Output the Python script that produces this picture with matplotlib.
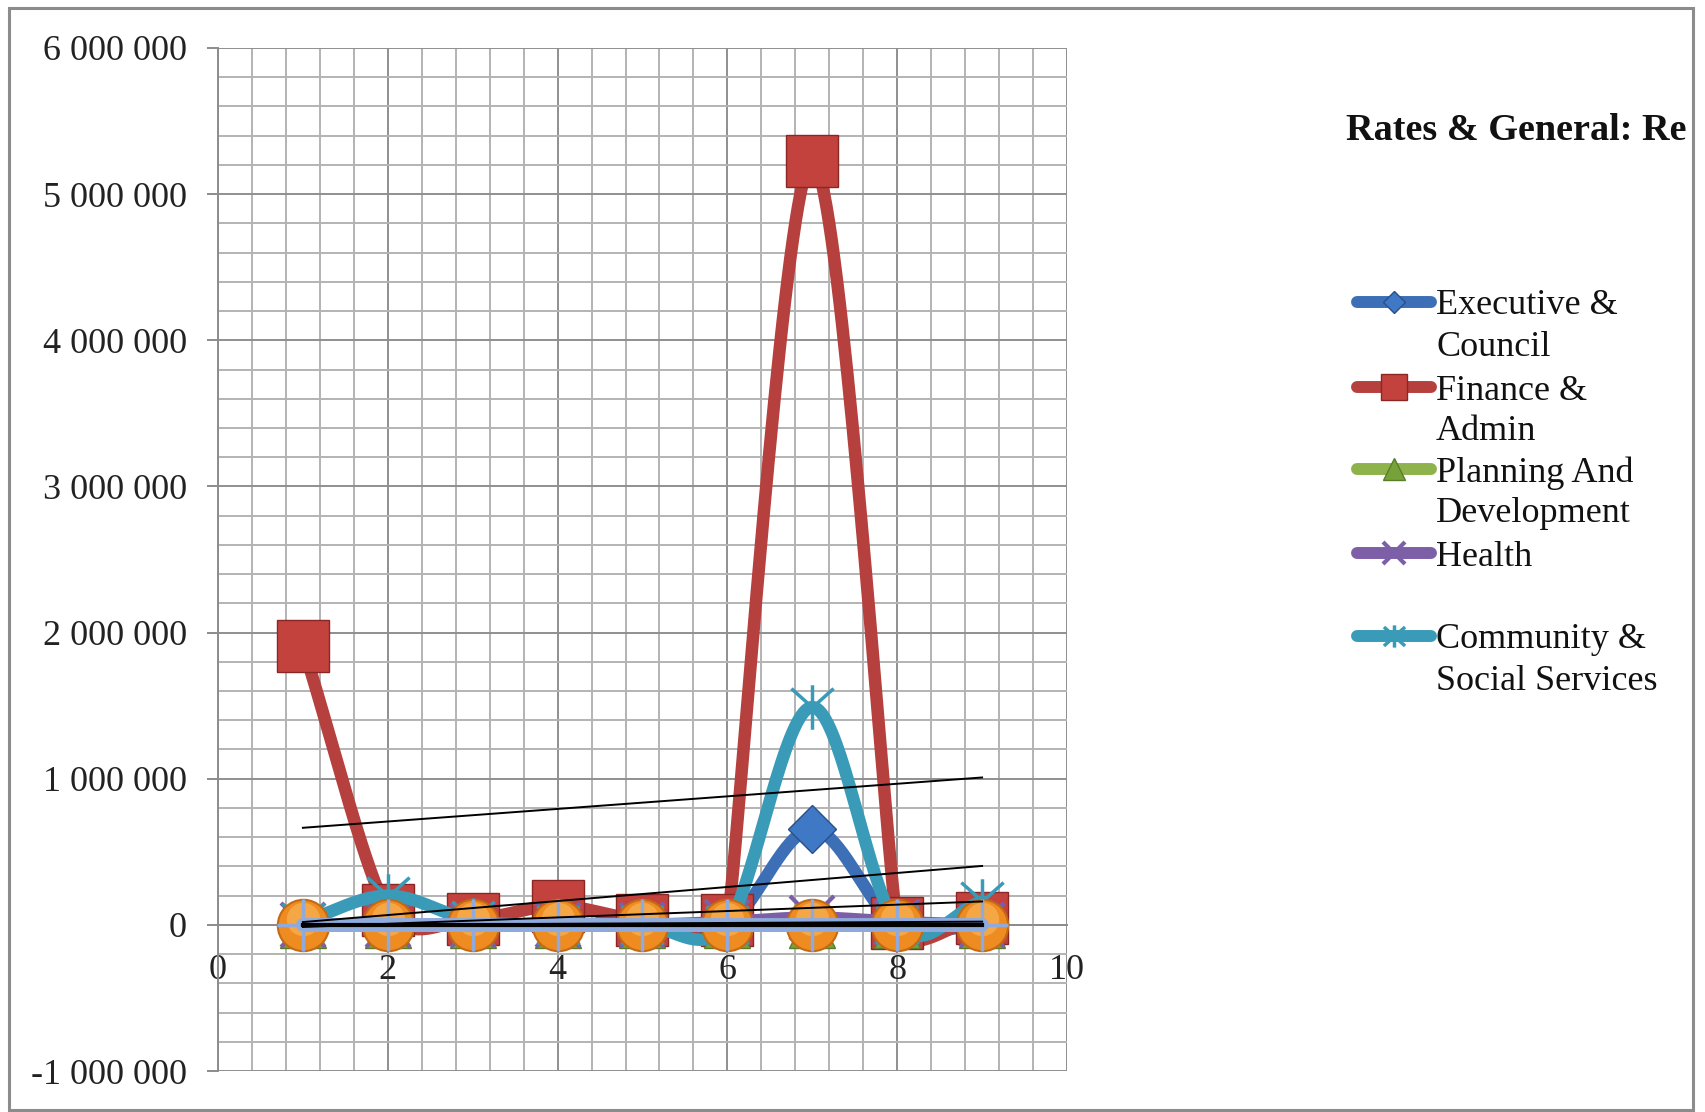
import numpy as np
import matplotlib
matplotlib.use("Agg")
import matplotlib.pyplot as plt
from matplotlib.lines import Line2D
from matplotlib.patches import Rectangle
from matplotlib.path import Path
from matplotlib.ticker import MultipleLocator, FuncFormatter
from matplotlib.transforms import Bbox, offset_copy

plt.rcParams['font.family'] = ['Liberation Serif', 'DejaVu Serif']

# monthly revenue per department
months = np.arange(1, 10)
executive_council = [0, 0, 0, 0, 0, 0, 655000, 0, 0]
finance_admin = [1907000, 100000, 40000, 130000, 30000, 30000, 5230000, 10000, 50000]
planning_development = [0, 0, 0, 0, 0, 0, 0, 0, 0]
health = [0, 0, 0, 0, 0, 20000, 50000, 20000, 0]
community_social = [20000, 200000, 30000, 0, 0, 0, 1490000, 0, 160000]
extra_orange = [0, 0, 0, 0, 0, 0, 0, 0, 0]
extra_light_blue = [0, 0, 0, 0, 0, 0, 0, 0, 0]

legend_labels = [["Executive &", "Council"],
                 ["Finance &", "Admin"],
                 ["Planning And", "Development"],
                 ["Health", ""],
                 ["Community &", "Social Services"]]
title = "Rates & General: Re"
y_ticks = np.arange(-1000000, 6000001, 1000000)
x_ticks = np.arange(0, 11, 2)

W, H = 1705, 1112
fig = plt.figure(figsize=(W / 100, H / 100), dpi=100)
ax = fig.add_axes([218 / W, 41 / H, 849 / W, 1023 / H])
ax.set_xlim(0, 10)
ax.set_ylim(-1000000, 6000000)


def excel_smooth(x, y, trans, steps=40):
    # bezier smoothing done in screen space, tangents capped by segment length
    p = trans.transform(np.column_stack([x, y]).astype(float))
    n = len(p)
    tan = np.zeros_like(p)
    for i in range(1, n - 1):
        d01 = np.hypot(*(p[i] - p[i - 1]))
        d12 = np.hypot(*(p[i + 1] - p[i]))
        d02 = np.hypot(*(p[i + 1] - p[i - 1]))
        f = min(1 / 6, d01 / (2 * d02), d12 / (2 * d02)) if d02 > 0 else 0
        tan[i] = (p[i + 1] - p[i - 1]) * f
    t = np.linspace(0, 1, steps)[:, None]
    out = []
    for i in range(n - 1):
        a, d = p[i], p[i + 1]
        b = a + tan[i] if i > 0 else a + (d - a) / 3
        c = d - tan[i + 1] if i + 1 < n - 1 else d - (d - a) / 3
        seg = (1 - t) ** 3 * a + 3 * (1 - t) ** 2 * t * b + 3 * (1 - t) * t ** 2 * c + t ** 3 * d
        out.append(seg)
    out = trans.inverted().transform(np.vstack(out))
    return out[:, 0], out[:, 1]


star = Path([(0, -1), (0, 1), (-0.95, -0.85), (0.95, 0.85), (-0.95, 0.85), (0.95, -0.85)],
            [Path.MOVETO, Path.LINETO, Path.MOVETO, Path.LINETO, Path.MOVETO, Path.LINETO])

series = [
    (executive_council, '#3d6fb6', dict(marker='D', ms=24, mfc='#3f78c4', mec='#294f8c', mew=1)),
    (finance_admin, '#b5403d', dict(marker='s', ms=37, mfc='#c4423e', mec='#8a2624', mew=1)),
    (planning_development, '#8fb34c', dict(marker='^', ms=33, mfc='#77a23a', mec='#5a7d2a', mew=1)),
    (health, '#7d5fa8', dict(marker='x', ms=32, mec='#7d5fa8', mew=3)),
    (community_social, '#3a9bb8', dict(marker=star, ms=32, mfc='none', mec='#3a9bb8', mew=2.5)),
    (extra_orange, '#f0902a', dict(marker='o', ms=37, mfc='#ee8c22', mec='#c46a14', mew=1.5)),
    (extra_light_blue, '#8faadc', dict(marker='+', ms=37, mec='#8faadc', mew=2.5)),
]

for k, (vals, col, mk) in enumerate(series):
    z = 3 + k
    sx, sy = excel_smooth(months, vals, ax.transData)
    lw = 10 if k == 6 else 9
    ax.plot(sx, sy, color=col, lw=lw, solid_capstyle='round', zorder=z)
    ax.plot(months, vals, ls='none', zorder=z + 0.5, **mk)
    if k == 5:
        # glossy highlight on the round markers
        ax.plot(months, vals, ls='none', marker='o', ms=24, mfc='#f6a745', mec='none',
                transform=offset_copy(ax.transData, fig=fig, y=4, units='points'),
                zorder=z + 0.6)

# linear trendlines for every series
for k, (vals, col, mk) in enumerate(series):
    coef = np.polyfit(months, vals, 1)
    ax.plot([1, 9], np.polyval(coef, [1, 9]), color='black',
            lw=3 if k == 6 else 1.4, zorder=12)

ax.set_xticks(x_ticks)
ax.set_yticks(y_ticks)
ax.xaxis.set_minor_locator(MultipleLocator(0.4))
ax.yaxis.set_minor_locator(MultipleLocator(200000))
ax.yaxis.set_major_formatter(FuncFormatter(lambda v, pos: f"{v:,.0f}".replace(",", " ")))
ax.set_axisbelow(True)
ax.grid(which='major', color='#8f8f8f', lw=1.4)
ax.grid(which='minor', color='#b3b3b3', lw=1.4)
ax.tick_params(which='minor', length=0)
ax.tick_params(axis='x', which='major', length=0, pad=21, labelsize=26, colors='#222222')
ax.tick_params(axis='y', which='major', length=8, width=1.4, color='#8c8c8c',
               pad=14.5, labelsize=26, labelcolor='#222222')
for side in ['top', 'right']:
    ax.spines[side].set_visible(False)
ax.spines['bottom'].set_position(('data', 0))
for side in ['left', 'bottom']:
    ax.spines[side].set_color('#8c8c8c')
    ax.spines[side].set_linewidth(1.4)

# title, legend and outer frame in pixel coordinates
lay = fig.add_axes([0, 0, 1, 1])
lay.set_zorder(-1)
lay.set_xlim(0, W)
lay.set_ylim(H, 0)
lay.axis('off')

lay.add_patch(Rectangle((9, 8), 1684, 1102, fill=False, edgecolor='#8c8c8c', lw=2.2))
t = lay.text(1346, 130, title, fontsize=27.5, fontweight='bold', va='center', ha='left',
             color='#111111')
t.set_clip_box(Bbox.from_extents(0, 0, 1692, H))

rows = [302, 387, 469, 553, 636]
for (vals, col, mk), lab, y in zip(series[:5], legend_labels, rows):
    lay.add_line(Line2D([1357, 1431], [y, y], color=col, lw=8.6, solid_capstyle='round'))
    small = dict(mk)
    small['ms'] = mk['ms'] * 0.5 if mk['marker'] != 'D' else 11
    lay.add_line(Line2D([1394], [y], ls='none', **small))
    lay.text(1436, y + 4, lab[0], fontsize=26, va='center', ha='left', color='#111111')
    if lab[1]:
        lay.text(1436, y + 45, lab[1], fontsize=26, va='center', ha='left', color='#111111')

fig.savefig('out.png', dpi=100, facecolor='white')
